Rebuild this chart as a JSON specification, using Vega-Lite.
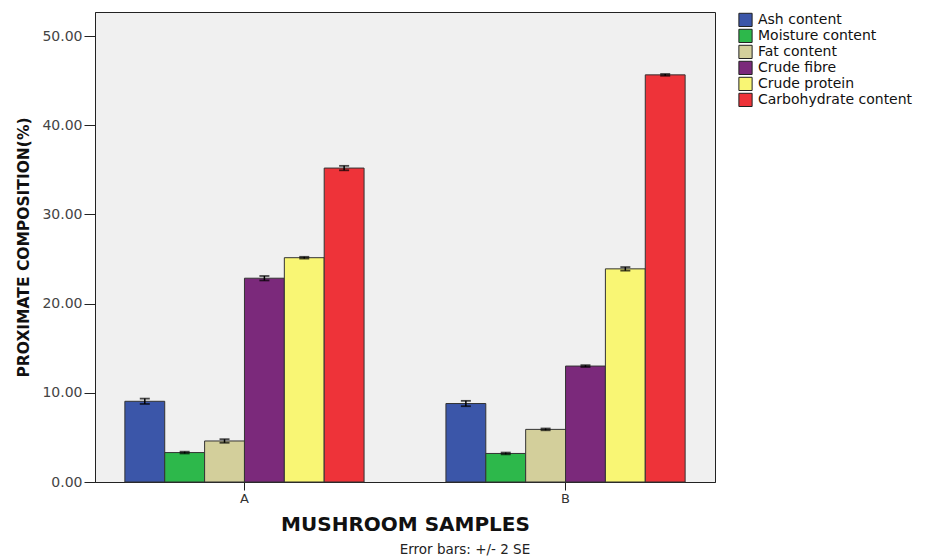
{
  "$schema": "https://vega.github.io/schema/vega-lite/v6.json",
  "width": 620,
  "height": 470,
  "padding": {"left": 16, "top": 12, "right": 0, "bottom": 2},
  "background": "white",
  "config": {
    "font": "DejaVu Sans",
    "view": {"fill": "#f0f0f0", "stroke": "#222", "strokeWidth": 1}
  },
  "title": {
    "text": "Error bars: +/- 2 SE",
    "orient": "bottom",
    "anchor": "middle",
    "frame": "bounds",
    "fontSize": 13.5,
    "fontWeight": "normal",
    "color": "#222",
    "offset": 9
  },
  "data": {
    "values": [
      {"sample": "A", "component": "Ash content", "value": 9.05, "lo": 8.75, "hi": 9.35},
      {"sample": "A", "component": "Moisture content", "value": 3.3, "lo": 3.2, "hi": 3.4},
      {"sample": "A", "component": "Fat content", "value": 4.6, "lo": 4.4, "hi": 4.8},
      {"sample": "A", "component": "Crude fibre", "value": 22.85, "lo": 22.6, "hi": 23.1},
      {"sample": "A", "component": "Crude protein", "value": 25.15, "lo": 25.05, "hi": 25.25},
      {"sample": "A", "component": "Carbohydrate content", "value": 35.2, "lo": 34.95, "hi": 35.45},
      {"sample": "B", "component": "Ash content", "value": 8.8, "lo": 8.5, "hi": 9.1},
      {"sample": "B", "component": "Moisture content", "value": 3.2, "lo": 3.1, "hi": 3.3},
      {"sample": "B", "component": "Fat content", "value": 5.9, "lo": 5.8, "hi": 6.0},
      {"sample": "B", "component": "Crude fibre", "value": 13.0, "lo": 12.9, "hi": 13.1},
      {"sample": "B", "component": "Crude protein", "value": 23.9, "lo": 23.7, "hi": 24.1},
      {"sample": "B", "component": "Carbohydrate content", "value": 45.65, "lo": 45.55, "hi": 45.75}
    ]
  },
  "encoding": {
    "x": {
      "field": "sample",
      "type": "nominal",
      "scale": {"paddingInner": 0.255, "paddingOuter": 0.093},
      "axis": {
        "title": "MUSHROOM SAMPLES",
        "titleFontSize": 20,
        "titleFontWeight": "bold",
        "titleColor": "#111",
        "titlePadding": 9,
        "labelAngle": 0,
        "labelFontSize": 13,
        "labelColor": "#333",
        "labelPadding": 2,
        "tickSize": 8,
        "tickColor": "#222",
        "domainColor": "#222"
      }
    },
    "xOffset": {
      "field": "component",
      "type": "nominal",
      "sort": ["Ash content", "Moisture content", "Fat content", "Crude fibre", "Crude protein", "Carbohydrate content"],
      "scale": {"paddingInner": 0, "paddingOuter": 0}
    }
  },
  "layer": [
    {
      "mark": {"type": "bar", "stroke": "#333", "strokeWidth": 1},
      "encoding": {
        "y": {
          "field": "value",
          "type": "quantitative",
          "scale": {"domain": [0, 52.7], "nice": false},
          "axis": {
            "title": "PROXIMATE COMPOSITION(%)",
            "titleFontSize": 15.5,
            "titleFontWeight": "bold",
            "titleColor": "#111",
            "titlePadding": 10,
            "values": [0, 10, 20, 30, 40, 50],
            "format": ".2f",
            "labelFontSize": 14,
            "labelColor": "#444",
            "labelPadding": 2,
            "tickSize": 11,
            "tickColor": "#222",
            "domainColor": "#222",
            "grid": false
          }
        },
        "color": {
          "field": "component",
          "type": "nominal",
          "scale": {
            "domain": ["Ash content", "Moisture content", "Fat content", "Crude fibre", "Crude protein", "Carbohydrate content"],
            "range": ["#3b56a9", "#2db84b", "#d3cf9b", "#7b297b", "#f9f674", "#ee3339"]
          },
          "legend": {
            "title": null,
            "orient": "right",
            "offset": 23,
            "symbolType": "square",
            "symbolSize": 175,
            "symbolStrokeColor": "#222",
            "symbolStrokeWidth": 1,
            "symbolOpacity": 1,
            "labelFontSize": 14,
            "labelColor": "#111",
            "labelOffset": 5,
            "labelLimit": 300,
            "rowPadding": 0,
            "clipHeight": 15.8
          }
        }
      }
    },
    {
      "mark": {"type": "rule", "color": "black", "strokeWidth": 1.5},
      "encoding": {
        "y": {"field": "lo", "type": "quantitative"},
        "y2": {"field": "hi"}
      }
    },
    {
      "mark": {"type": "tick", "color": "black", "thickness": 1.8, "size": 10},
      "encoding": {
        "y": {"field": "lo", "type": "quantitative"}
      }
    },
    {
      "mark": {"type": "tick", "color": "black", "thickness": 1.8, "size": 10},
      "encoding": {
        "y": {"field": "hi", "type": "quantitative"}
      }
    }
  ]
}
